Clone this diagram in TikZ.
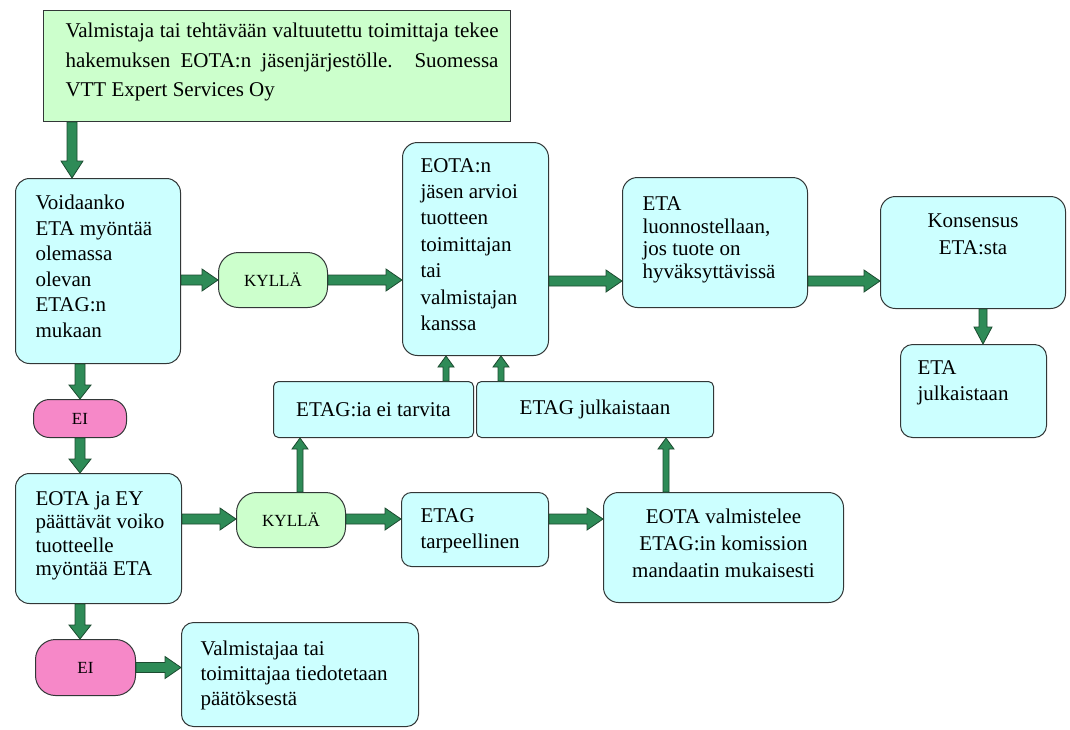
\documentclass[tikz,border=0pt]{standalone}
\usepackage{fontspec}
\setmainfont{Liberation Serif}
\usetikzlibrary{calc}
\definecolor{cyanc}{RGB}{204,255,255}
\definecolor{greenc}{RGB}{204,255,204}
\definecolor{pinkc}{RGB}{246,136,200}
\definecolor{bordc}{RGB}{50,55,55}
\definecolor{arrf}{RGB}{46,139,87}
\definecolor{arrd}{RGB}{28,75,48}
\newcommand\bxtext[5]{\parbox[t][#2][t]{#1}{#4\rule{0pt}{#3}#5}}
\newcommand\farrow[5]{%
  \draw[arr] let \p1=(#4), \p2=(#5), \n1={atan2(\y2-\y1,\x2-\x1)}, \n2={veclen(\x2-\x1,\y2-\y1)} in
    [shift={(\p1)}, rotate=\n1] (0pt,-#1) -- (\n2-#3,-#1) -- (\n2-#3,-#2) -- (\n2,0pt) -- (\n2-#3,#2) -- (\n2-#3,#1) -- (0pt,#1) -- cycle;}
\begin{document}
\begin{tikzpicture}[x=1pt,y=-1pt,
  cbox/.style={draw=bordc, fill=cyanc, line width=1pt, inner ysep=0pt, anchor=north west, font=\fontsize{21}{27}\selectfont},
  gbox/.style={draw=bordc, fill=greenc, line width=1pt, inner sep=0pt, anchor=north west, font=\fontsize{21}{29.5}\selectfont},
  pill/.style={draw=bordc, line width=1pt, inner sep=0pt, anchor=north west, font=\fontsize{17}{19}\selectfont},
  cbar/.style={draw=bordc, fill=cyanc, line width=1pt, inner sep=0pt, anchor=north west, rounded corners=5pt, font=\fontsize{21}{27}\selectfont},
  arr/.style={fill=arrf, draw=arrd, line width=0.8pt, line join=miter}]
\useasboundingbox[fill=white] (0,0) rectangle (1070,729);

% nodes
\node[gbox] (top) at (43,10) {\bxtext{467pt}{111pt}{27pt}{}{\hspace*{22pt}\makebox[433pt][s]{Valmistaja tai tehtävään valtuutettu toimittaja tekee}\\\hspace*{22pt}\makebox[433pt][s]{hakemuksen EOTA:n jäsenjärjestölle. Suomessa}\\\hspace*{22pt}VTT Expert Services Oy}};

\node[cbox, rounded corners=14pt, inner xsep=20pt] (q1) at (15,178) {\bxtext{125pt}{185pt}{31pt}{\raggedright\baselineskip=25.6pt}{Voidaanko\\ETA myöntää\\olemassa\\olevan\\ETAG:n\\mukaan}};

\node[pill, fill=greenc, rounded corners=20pt, minimum width=109pt, minimum height=55pt] (yes1) at (218,252) {KYLLÄ};

\node[cbox, rounded corners=15pt, inner xsep=18pt] (assess) at (402,142) {\bxtext{110pt}{213pt}{29.6pt}{\raggedright\baselineskip=26.4pt}{EOTA:n\\jäsen arvioi\\tuotteen\\toimittajan\\tai\\valmistajan\\kanssa}};

\node[cbox, rounded corners=15pt, inner xsep=20pt] (draft) at (622,177) {\bxtext{145pt}{130pt}{33pt}{\raggedright\baselineskip=22.5pt}{ETA\\luonnostellaan,\\jos tuote on\\hyväksyttävissä}};

\node[cbox, rounded corners=15pt, inner xsep=10pt] (consensus) at (880,196) {\bxtext{165pt}{112pt}{31pt}{\centering\baselineskip=27pt}{Konsensus\\ETA:sta}};

\node[cbox, rounded corners=12pt, inner xsep=17pt] (publish) at (900,344) {\bxtext{112pt}{93pt}{30pt}{\raggedright\baselineskip=26pt}{ETA\\julkaistaan}};

\node[pill, fill=pinkc, rounded corners=16pt, minimum width=93pt, minimum height=38pt] (no1) at (33,399) {EI};

\node[cbox, rounded corners=14pt, inner xsep=12pt] (q2) at (15,473) {\bxtext{142pt}{130pt}{32pt}{\raggedright\baselineskip=23.3pt}{\hspace*{8pt}EOTA ja EY\\\hspace*{8pt}päättävät voiko\\\hspace*{8pt}tuotteelle\\\hspace*{8pt}myöntää ETA}};

\node[pill, fill=greenc, rounded corners=20pt, minimum width=109pt, minimum height=55pt] (yes2) at (236,492) {KYLLÄ};

\node[cbar, minimum width=200pt, minimum height=56pt] (notneeded) at (273,381) {ETAG:ia ei tarvita};

\node[cbar, minimum width=237pt, minimum height=56pt] (etagpub) at (476,381) {ETAG julkaistaan};

\node[cbox, rounded corners=10pt, inner xsep=19pt] (needed) at (401,492) {\bxtext{109pt}{74pt}{30pt}{\raggedright\baselineskip=26pt}{ETAG\\tarpeellinen}};

\node[cbox, rounded corners=15pt, inner xsep=10pt] (prepare) at (603,492) {\bxtext{220pt}{110pt}{31pt}{\centering\baselineskip=27pt}{EOTA valmistelee\\ETAG:in komission\\mandaatin mukaisesti}};

\node[pill, fill=pinkc, rounded corners=20pt, minimum width=100pt, minimum height=56pt] (no2) at (35,639) {EI};

\node[cbox, rounded corners=12pt, inner xsep=19pt] (inform) at (181,622) {\bxtext{199pt}{104pt}{33pt}{\raggedright\baselineskip=25pt}{Valmistajaa tai\\toimittajaa tiedotetaan\\päätöksestä}};

% helper coordinates
\coordinate (c1) at (72,0);
\coordinate (c2) at (983,0);
\coordinate (c3) at (300,0);
\coordinate (c4) at (666,0);
\coordinate (c5) at (446,0);
\coordinate (c6) at (501,0);
\coordinate (r1) at (0,281);
\coordinate (r2) at (0,519);

% connectors
\farrow{5pt}{11pt}{17pt}{c1 |- top.south}{c1 |- q1.north}
\farrow{5pt}{11pt}{16pt}{q1.east |- yes1.west}{yes1.west}
\farrow{5pt}{11pt}{16pt}{yes1.east}{yes1.east -| assess.west}
\farrow{5pt}{11pt}{16pt}{r1 -| assess.east}{r1 -| draft.west}
\farrow{5pt}{11pt}{16pt}{r1 -| draft.east}{r1 -| consensus.west}
\farrow{4pt}{9pt}{17pt}{c2 |- consensus.south}{c2 |- publish.north}
\farrow{5pt}{11pt}{14pt}{no1.north |- q1.south}{no1.north}
\farrow{5pt}{11pt}{14pt}{no1.south}{no1.south |- q2.north}
\farrow{5pt}{11pt}{16pt}{r2 -| q2.east}{r2 -| yes2.west}
\farrow{5pt}{11pt}{16pt}{r2 -| yes2.east}{r2 -| needed.west}
\farrow{5pt}{11pt}{16pt}{r2 -| needed.east}{r2 -| prepare.west}
\farrow{3pt}{8pt}{11pt}{c3 |- yes2.north}{c3 |- notneeded.south}
\farrow{3pt}{8pt}{11pt}{c4 |- prepare.north}{c4 |- etagpub.south}
\farrow{3pt}{8pt}{11pt}{c5 |- notneeded.north}{c5 |- assess.south}
\farrow{3pt}{8pt}{11pt}{c6 |- etagpub.north}{c6 |- assess.south}
\farrow{5pt}{11pt}{14pt}{no1.south |- q2.south}{no1.south |- no2.north}
\farrow{5pt}{11pt}{16pt}{no2.east}{no2.east -| inform.west}
\end{tikzpicture}
\end{document}
